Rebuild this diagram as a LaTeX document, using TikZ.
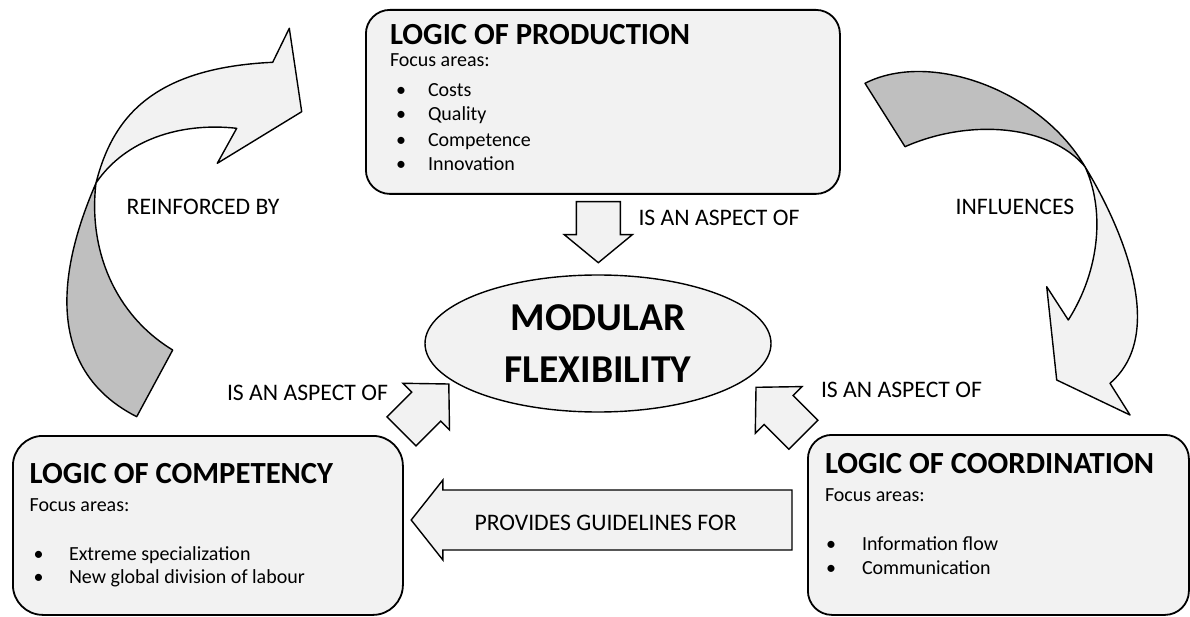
\documentclass[tikz,border=0pt]{standalone}
\usepackage{fontspec}
\setmainfont{Carlito}
\usetikzlibrary{shapes.geometric}
\definecolor{lightfill}{HTML}{F2F2F2}
\definecolor{darkfill}{HTML}{BFBFBF}
\newcommand{\blockarr}[7]{% tip x, tip y, angle, length, head length, head half, shaft half
  \begin{scope}[shift={(#1,#2)}, rotate=#3]
    \draw[arrowshape] (0,0) -- (-#5,#6) -- (-#5,#7) -- (-#4,#7) -- (-#4,-#7) -- (-#5,-#7) -- (-#5,-#6) -- cycle;
  \end{scope}}
\begin{document}
\begin{tikzpicture}[x=1pt,y=-1pt,
  boxstyle/.style={rectangle, draw=black, line width=1.8pt, fill=lightfill, anchor=north west, inner sep=0pt},
  arrowshape/.style={draw=black, line width=1.4pt, fill=lightfill, line join=miter},
  darkshape/.style={draw=black, line width=1.4pt, fill=darkfill, line join=round},
  lightshape/.style={draw=black, line width=1.4pt, fill=lightfill, line join=round},
  txt/.style={anchor=base west, inner sep=0pt, outer sep=0pt, font=\fontsize{20}{24}\selectfont},
  lbl/.style={anchor=base west, inner sep=0pt, outer sep=0pt, font=\fontsize{23.7}{28}\selectfont},
  ttl/.style={anchor=base west, inner sep=0pt, outer sep=0pt, font=\fontsize{30.7}{36}\selectfont\bfseries},
]
\useasboundingbox (0,0) rectangle (1190,617);

% ---- boxes
\node[boxstyle, rounded corners=24pt, minimum width=474pt, minimum height=184pt] (prod) at (365,9) {};
\node[boxstyle, rounded corners=30pt, minimum width=390pt, minimum height=179pt] (comp) at (12,435) {};
\node[boxstyle, rounded corners=24pt, minimum width=381pt, minimum height=180pt] (coord) at (807,434) {};

% ---- production text
\node[ttl] (prodt) at (390,45) {LOGIC OF PRODUCTION};
\node[txt] (prodf) at (390,67) {Focus areas:};
\node[txt] (prodb1) at (396,96.7) {•};
\node[txt] (prodi1) at (428,96.7) {Costs};
\node[txt] (prodb2) at (396,120.5) {•};
\node[txt] (prodi2) at (428,120.5) {Quality};
\node[txt] (prodb3) at (396,146.5) {•};
\node[txt] (prodi3) at (428,146.5) {Competence};
\node[txt] (prodb4) at (396,170.5) {•};
\node[txt] (prodi4) at (428,170.5) {Innovation};

% ---- competency text
\node[ttl] (compt) at (29.7,483.3) {LOGIC OF COMPETENCY};
\node[txt] (compf) at (29.7,511.7) {Focus areas:};
\node[txt] (compb1) at (33.5,560) {•};
\node[txt] (compi1) at (69,560) {Extreme specialization};
\node[txt] (compb2) at (33.5,583.3) {•};
\node[txt] (compi2) at (69,583.3) {New global division of labour};

% ---- coordination text
\node[ttl] (coordt) at (825,473) {LOGIC OF COORDINATION};
\node[txt] (coordf) at (825,501) {Focus areas:};
\node[txt] (coordb1) at (826,550) {•};
\node[txt] (coordi1) at (862,550) {Information flow};
\node[txt] (coordb2) at (826,574) {•};
\node[txt] (coordi2) at (862,574) {Communication};

% ---- centre ellipse
\node[ellipse, draw=black, line width=1.4pt, fill=lightfill, minimum width=346pt, minimum height=137pt,
      inner sep=0pt, align=center, font=\fontsize{39.5}{51.5}\selectfont\bfseries] (mod) at (598,343.5) {MODULAR\\FLEXIBILITY};

% ---- straight block arrows
\blockarr{598.3}{262.7}{-90}{61}{28}{34}{22}
\blockarr{448.8}{384}{45}{67}{32}{33}{20.5}
\blockarr{756}{387.3}{135}{67}{32}{33}{20.5}
\blockarr{411.2}{520}{180}{380.8}{31.7}{40}{30}

% ---- curved arrow left (reinforced by)
\draw[darkshape] (96,183) .. controls (76,230) and (25,360) .. (136.7,416.7) -- (172.7,350)
   .. controls (115,315) and (88,250) .. (96,183) -- cycle;
\draw[lightshape] (96,183) .. controls (112,120) and (150,68) .. (272.7,62.3) -- (289.3,28.3) -- (301.7,111.7)
   -- (217.3,163.3) -- (236.7,128.3) .. controls (180,122) and (125,140) .. (96,183) -- cycle;

% ---- curved arrow right (influences)
\draw[darkshape] (865,83.3) .. controls (930,50) and (1040,90) .. (1085,166.7)
   .. controls (1050,125) and (970,118) .. (905,146.7) -- cycle;
\draw[lightshape] (1085,166.7) .. controls (1113.6,213.5) and (1172,330) .. (1110,383.3) -- (1130,415)
   -- (1056.7,380) -- (1046.7,286.7) -- (1068.3,320) .. controls (1100,270) and (1105,210) .. (1085,166.7) -- cycle;

% ---- labels
\node[lbl] (l1) at (638.5,226) {IS AN ASPECT OF};
\node[lbl] (l2) at (227,400.5) {IS AN ASPECT OF};
\node[lbl] (l3) at (821,397) {IS AN ASPECT OF};
\node[lbl] (l4) at (474.5,530.5) {PROVIDES GUIDELINES FOR};
\node[lbl] (l5) at (126.7,215) {REINFORCED BY};
\node[lbl] (l6) at (955.7,215) {INFLUENCES};
\end{tikzpicture}
\end{document}
